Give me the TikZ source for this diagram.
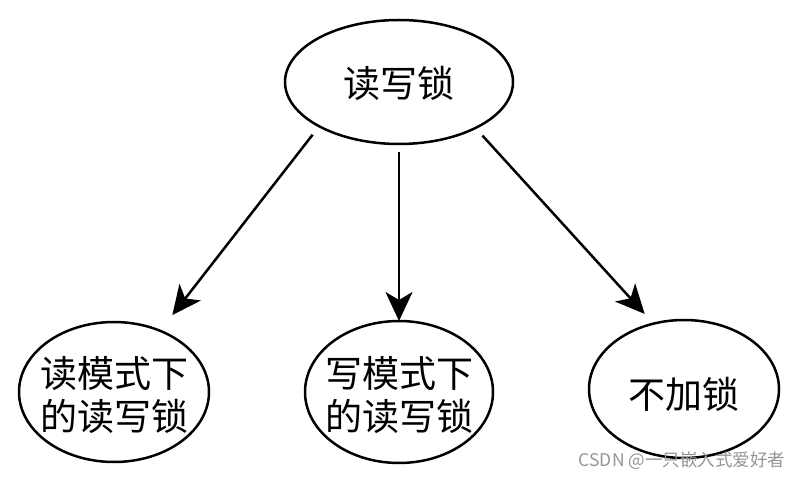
\documentclass[tikz,border=0pt]{standalone}
\usepackage{fontspec}
\setmainfont{Noto Sans CJK SC}
\usetikzlibrary{arrows.meta,shapes.geometric}
\definecolor{wmgray}{RGB}{150,150,150}
\newcommand\elltext[2][0pt]{\raisebox{#1}[0pt][0pt]{\makebox[0pt]{\begin{tabular}{@{}c@{}}#2\end{tabular}}}}
\begin{document}
\begin{tikzpicture}[x=1pt,y=-1pt,
  bub/.style={ellipse,draw,line width=2.5pt,inner sep=0pt,outer sep=0pt,
    font=\fontsize{37}{42}\selectfont},
  conn/.style={line width=2.5pt,-{Stealth[length=29pt,width=27pt,inset=8pt]}}]
\useasboundingbox[fill=white] (0,0) rectangle (802,478);
\node[bub,minimum width=228pt,minimum height=124pt] (top) at (399,82) {\elltext[-12pt]{读写锁}};
\node[bub,minimum width=190pt,minimum height=140pt] (rd) at (114,392) {\elltext[-14pt]{读模式下\\的读写锁}};
\node[bub,minimum width=188pt,minimum height=142pt] (wr) at (399,392) {\elltext[-14pt]{写模式下\\的读写锁}};
\node[bub,minimum width=190pt,minimum height=138pt] (no) at (684,389) {\elltext[-16pt]{不加锁}};
\draw[conn,shorten <=10.7pt,shorten >=19.9pt] (top.209.3) -- (rd.53.3);
\draw[conn,shorten <=8pt] (top.270) -- (wr.90);
\draw[conn,shorten <=10.3pt,shorten >=13.2pt] (top.329.9) -- (no.115.6);
\node[text=wmgray,font=\fontsize{17.5}{20}\selectfont,inner sep=0pt] (wm) at (682,461) {CSDN @一只嵌入式爱好者};
\end{tikzpicture}
\end{document}
